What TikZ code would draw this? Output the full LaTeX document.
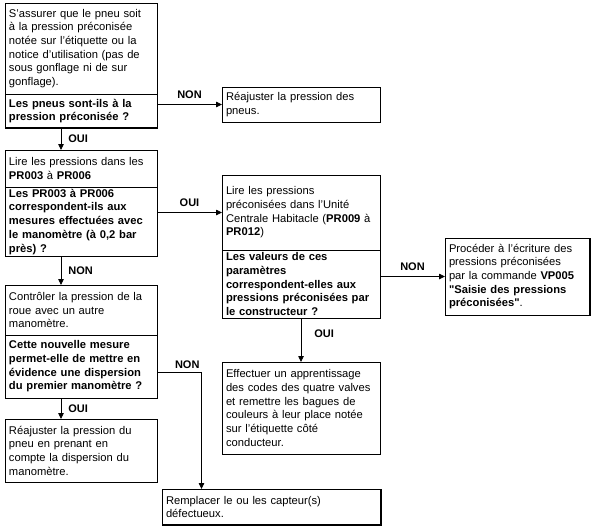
\documentclass[tikz,border=0pt]{standalone}
\usepackage{fontspec}
\setmainfont{Liberation Sans}
\usetikzlibrary{arrows.meta,positioning}
\tikzset{
  box/.style={
    rectangle,
    draw=black,
    line width=0.9pt,
    anchor=north west,
    outer sep=0pt,
    inner xsep=4pt,
    inner ysep=2pt,
    align=left,
    font=\fontsize{11.2}{13.7}\selectfont
  },
  leftbox/.style={
    box,
    text width=144pt
  },
  midbox/.style={
    box,
    text width=150pt
  },
  question/.style={
    leftbox,
    font=\fontsize{11.2}{13.7}\selectfont\bfseries
  },
  midquestion/.style={
    midbox,
    font=\fontsize{11.2}{13.7}\selectfont\bfseries
  },
  arrow/.style={
    -{Triangle[length=6pt,width=5.5pt]},
    line width=0.8pt,
    draw=black
  },
  lbl/.style={
    font=\fontsize{11}{13}\selectfont\bfseries,
    inner sep=1pt
  }
}

\begin{document}
\begin{tikzpicture}[x=1pt,y=-1pt]
  \useasboundingbox (0,0) rectangle (593,530);

  \node[leftbox, minimum height=91pt] (verif) at (5,3) {S'assurer que le pneu soit\\à la pression préconisée\\notée sur l'étiquette ou la\\notice d'utilisation (pas de\\sous gonflage ni de sur\\gonflage).};
  \node[question, minimum height=34pt, below=0pt of verif] (pression) {Les pneus sont-ils à la\\pression préconisée ?};

  \node[midbox, minimum height=35pt] (reajust) at (222,87) {Réajuster la pression des\\pneus.};

  \node[leftbox, minimum height=37pt] (lire) at (5,150) {Lire les pressions dans les\\\textbf{PR003} à \textbf{PR006}};
  \node[question, minimum height=67pt, below=0pt of lire] (mesure) {Les PR003 à PR006\\correspondent-ils aux\\mesures effectuées avec\\le manomètre (à 0,2 bar\\près) ?};

  \node[midbox, minimum height=75pt] (lireuch) at (222,175) {Lire les pressions\\préconisées dans l'Unité\\Centrale Habitacle (\textbf{PR009} à\\\textbf{PR012})};
  \node[midquestion, minimum height=68pt, below=0pt of lireuch] (valeurs) {Les valeurs de ces\\paramètres\\correspondent-elles aux\\pressions préconisées par\\le constructeur ?};

  \node[box, text width=137pt, minimum height=77pt] (ecriture) at (445,238) {Procéder à l'écriture des\\pressions préconisées\\par la commande \textbf{VP005}\\\textbf{\textquotedbl Saisie des pressions}\\\textbf{préconisées\textquotedbl}.};

  \node[leftbox, minimum height=50pt] (controle) at (5,285) {Contrôler la pression de la\\roue avec un autre\\manomètre.};
  \node[question, minimum height=63pt, below=0pt of controle] (dispersion) {Cette nouvelle mesure\\permet-elle de mettre en\\évidence une dispersion\\du premier manomètre ?};

  \node[leftbox, minimum height=63pt] (correction) at (5,419) {Réajuster la pression du\\pneu en prenant en\\compte la dispersion du\\manomètre.};

  \node[midbox, minimum height=92pt] (apprent) at (222,362) {Effectuer un apprentissage\\des codes des quatre valves\\et remettre les bagues de\\couleurs à leur place notée\\sur l'étiquette côté\\conducteur.};

  \node[box, text width=211pt, minimum height=36pt] (capteur) at (162,489) {Remplacer le ou les capteur(s)\\défectueux.};

  % heavier edges as printed
  \draw[line width=2.5pt] (pression.south west) -- (pression.south east);
  \draw[line width=1.6pt] (capteur.north east) -- (capteur.south east) -- (capteur.south west);
  \draw[line width=1.4pt] (ecriture.north east) -- (ecriture.south east);

  \draw[arrow] (pression.east |- reajust.west) -- node[lbl, above=4pt] {NON} (reajust.west);
  \draw[arrow] ([xshift=-20pt]pression.south) -- node[lbl, right=6pt] {OUI} ([xshift=-20pt]lire.north);
  \draw[arrow] (mesure.east |- lireuch.west) -- node[lbl, above=4pt] {OUI} (lireuch.west);
  \draw[arrow] ([xshift=-20pt]mesure.south) -- node[lbl, right=6pt] {NON} ([xshift=-20pt]controle.north);
  \draw[arrow] (valeurs.east |- ecriture.west) -- node[lbl, above=4pt] {NON} (ecriture.west);
  \draw[arrow] (valeurs.south) -- node[lbl, pos=0.35, right=12pt] {OUI} (apprent.north);
  \draw[arrow] ([yshift=-6pt]dispersion.east) -| node[lbl, pos=0.34, above=3pt] {NON} ([xshift=-70pt]capteur.north);
  \draw[arrow] ([xshift=-20pt]dispersion.south) -- node[lbl, right=6pt] {OUI} ([xshift=-20pt]correction.north);
\end{tikzpicture}
\end{document}
